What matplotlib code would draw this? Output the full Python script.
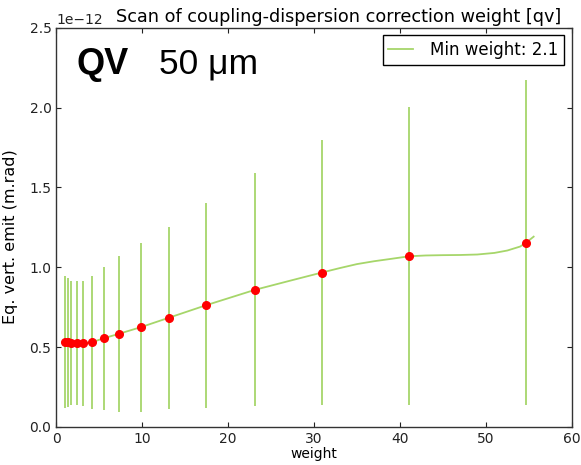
import numpy as np
import matplotlib
matplotlib.use("Agg")
import matplotlib.pyplot as plt

# scan values (emittance in units of 1e-12 m.rad)
weights = [0.96, 1.31, 1.69, 2.35, 3.12, 4.14, 5.5, 7.34, 9.85,
           13.11, 17.42, 23.14, 30.91, 41.08, 54.69]
emit = [0.532, 0.530, 0.527, 0.524, 0.523, 0.530, 0.555, 0.584, 0.625,
        0.684, 0.762, 0.859, 0.967, 1.069, 1.154]
emit_err = [0.414, 0.404, 0.390, 0.387, 0.394, 0.416, 0.447, 0.489, 0.529,
            0.570, 0.642, 0.730, 0.831, 0.935, 1.019]

# smooth fit curve
fit_w = [0.96, 1.69, 3.12, 4.14, 5.5, 7.34, 9.85, 13.11, 17.42, 23.14, 27.0,
         30.91, 33.0, 35.0, 37.0, 39.0, 41.08, 43.0, 45.0, 47.0, 49.0, 51.0,
         52.5, 54.0, 54.69, 55.57]
fit_e = [0.532, 0.527, 0.523, 0.530, 0.555, 0.584, 0.625, 0.684, 0.762, 0.859,
         0.913, 0.967, 0.995, 1.020, 1.038, 1.053, 1.069, 1.074, 1.076, 1.077,
         1.080, 1.090, 1.105, 1.130, 1.154, 1.192]
min_weight = 2.1

GREEN = "#a6d66a"
SCALE = 1e-12

fig = plt.figure(figsize=(5.81, 4.65), dpi=100)
ax = fig.add_axes([0.097, 0.082, 0.887, 0.858])

ax.errorbar(weights, np.array(emit) * SCALE, yerr=np.array(emit_err) * SCALE,
            fmt="none", ecolor=GREEN, elinewidth=1.3, capsize=0)
ax.plot(fit_w, np.array(fit_e) * SCALE, "-", color=GREEN, lw=1.3,
        label=f"Min weight: {min_weight}")
ax.plot(weights, np.array(emit) * SCALE, "o", color="red", mec="red",
        ms=5.5, zorder=5)

ax.set_xlim(0, 60)
ax.set_ylim(0, 2.5e-12)
ax.set_xticks(np.arange(0, 61, 10))
ax.set_yticks(np.arange(0, 2.51e-12, 0.5e-12))
ax.tick_params(direction="in", top=True, right=True, labelsize=10,
               length=3.5, colors="#222222")
for sp in ax.spines.values():
    sp.set_linewidth(1.0)
    sp.set_color("#333333")

ax.set_xlabel("weight", fontsize=10, labelpad=1)
ax.set_ylabel("Eq. vert. emit (m.rad)", fontsize=11.5)
ax.yaxis.set_label_coords(-0.075, 0.477)
ax.set_title("Scan of coupling-dispersion correction weight [qv]",
             fontsize=12.7, x=0.547, pad=4)

ax.text(0.04, 0.885, "QV", transform=ax.transAxes, fontsize=26,
        fontweight="bold", family="Liberation Sans")
ax.text(0.2, 0.885, "50 μm", transform=ax.transAxes, fontsize=25.5,
        family="Liberation Sans")

ax.legend(loc="upper right", fontsize=12, fancybox=False, edgecolor="black",
          framealpha=1, borderaxespad=0.45, handlelength=1.5,
          handletextpad=1.0, borderpad=0.35)
ax.legend_.get_frame().set_linewidth(1.0)

plt.savefig("out.png", dpi=100)
plt.close()
